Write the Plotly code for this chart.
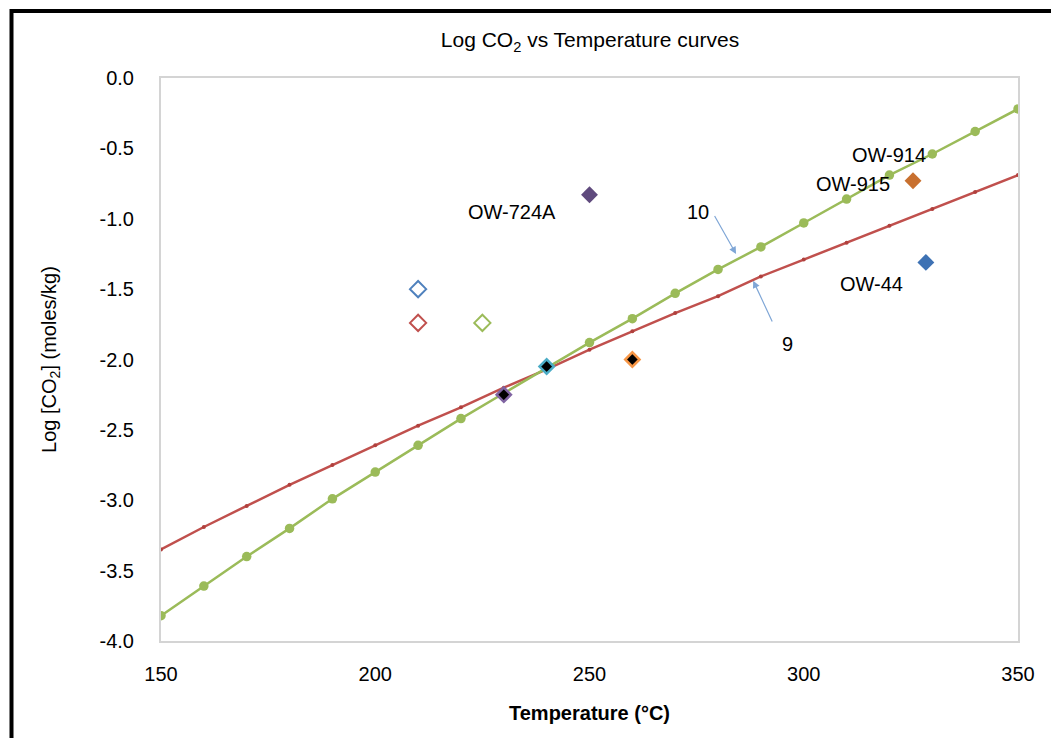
import plotly.graph_objects as go

# ---- data ----
temps = [150, 160, 170, 180, 190, 200, 210, 220, 230, 240, 250,
         260, 270, 280, 290, 300, 310, 320, 330, 340, 350]
curve_10 = [-3.82, -3.61, -3.40, -3.20, -2.99, -2.80, -2.61, -2.42, -2.24, -2.06, -1.88,
            -1.71, -1.53, -1.36, -1.20, -1.03, -0.86, -0.69, -0.54, -0.38, -0.22]
curve_9 = [-3.35, -3.19, -3.04, -2.89, -2.75, -2.61, -2.47, -2.34, -2.20, -2.07, -1.93,
           -1.80, -1.67, -1.55, -1.41, -1.29, -1.17, -1.05, -0.93, -0.81, -0.69]

open_x = [210, 210, 225]
open_y = [-1.50, -1.74, -1.74]
open_colors = ["#4F81BD", "#C0504D", "#9BBB59"]

dark_x = [230, 240, 260]
dark_y = [-2.25, -2.05, -2.00]
dark_edge = ["#8064A2", "#4BACC6", "#F79646"]

well_names = ["OW-724A", "OW-914", "OW-44"]
well_x = [250, 325.5, 328.5]
well_y = [-0.83, -0.73, -1.31]
well_colors = ["#5F4A7D", "#C8702F", "#3E72B4"]

label_text = ["OW-724A", "OW-914", "OW-915", "OW-44", "10", "9"]
label_x = [232.0, 319.9, 311.5, 315.7, 275.3, 296.3]
label_y = [-0.95, -0.55, -0.75, -1.46, -0.95, -1.89]

arrow_tail_x = [279.0, 292.8]
arrow_tail_y = [-0.97, -1.74]
arrow_head_x = [284.2, 288.2]
arrow_head_y = [-1.25, -1.44]

y_ticks = [0.0, -0.5, -1.0, -1.5, -2.0, -2.5, -3.0, -3.5, -4.0]
y_tick_text = ["0.0", "-0.5", "-1.0", "-1.5", "-2.0", "-2.5", "-3.0", "-3.5", "-4.0"]
x_ticks = [150, 200, 250, 300, 350]
x_tick_text = ["150", "200", "250", "300", "350"]

FONT = "Liberation Sans, Arial, sans-serif"

fig = go.Figure()

fig.add_trace(go.Scatter(x=temps, y=curve_9, mode="lines+markers",
                         line=dict(color="#C0504D", width=2.5),
                         marker=dict(symbol="circle", size=4, color="#B0403D"),
                         showlegend=False, name="9"))
fig.add_trace(go.Scatter(x=temps, y=curve_10, mode="lines+markers",
                         line=dict(color="#9BBB59", width=2.5),
                         marker=dict(symbol="circle", size=9.5, color="#9BBB59"),
                         showlegend=False, name="10"))

fig.add_trace(go.Scatter(x=open_x, y=open_y, mode="markers",
                         marker=dict(symbol="diamond-open", size=12.5,
                                     color=open_colors, line=dict(width=2, color=open_colors)),
                         showlegend=False))
fig.add_trace(go.Scatter(x=dark_x, y=dark_y, mode="markers",
                         marker=dict(symbol="diamond", size=11, color="black",
                                     line=dict(width=2.5, color=dark_edge)),
                         showlegend=False))
fig.add_trace(go.Scatter(x=well_x, y=well_y, mode="markers",
                         marker=dict(symbol="diamond", size=13, color=well_colors,
                                     line=dict(width=0)),
                         showlegend=False, text=well_names))

annotations = []
for t, x, y in zip(label_text, label_x, label_y):
    annotations.append(dict(x=x, y=y, xref="x", yref="y", text=t, showarrow=False,
                            font=dict(family=FONT, size=20, color="black"),
                            xanchor="center", yanchor="middle"))
for tx, ty, hx, hy in zip(arrow_tail_x, arrow_tail_y, arrow_head_x, arrow_head_y):
    annotations.append(dict(x=hx, y=hy, ax=tx, ay=ty, xref="x", yref="y",
                            axref="x", ayref="y", text="", showarrow=True,
                            arrowhead=2, arrowsize=1.2, arrowwidth=1.2,
                            arrowcolor="#7FA6D6"))

# outer black frame (extends past right/bottom edges like the source image)
fig.add_shape(type="rect", xref="paper", yref="paper",
              x0=(11.5 - 161) / 857, x1=(1070 - 161) / 857,
              y0=(641 - 760) / 563, y1=(641 - 11) / 563,
              line=dict(color="black", width=4), fillcolor="rgba(0,0,0,0)", layer="above")

fig.update_layout(
    width=1051, height=738,
    margin=dict(l=161, r=33, t=78, b=97),
    paper_bgcolor="white", plot_bgcolor="white",
    font=dict(family=FONT, size=20, color="black"),
    title=dict(text="Log CO<sub>2</sub> vs Temperature curves", x=590 / 1051, xanchor="center",
               y=1 - 40 / 738, yanchor="middle", font=dict(family=FONT, size=21, color="black")),
    annotations=annotations,
    xaxis=dict(range=[150, 350], tickvals=x_ticks, ticktext=x_tick_text,
               showgrid=False, zeroline=False, showline=True, mirror=True,
               linecolor="#D4D4D4", linewidth=2, ticks="", ticklabelstandoff=14,
               tickfont=dict(family=FONT, size=20),
               title=dict(text="<b>Temperature (°C)</b>", standoff=22,
                          font=dict(family=FONT, size=20))),
    yaxis=dict(range=[-4, 0], tickvals=y_ticks, ticktext=y_tick_text,
               showgrid=False, zeroline=False, showline=True, mirror=True,
               linecolor="#D4D4D4", linewidth=2, ticks="", ticklabelstandoff=21,
               tickfont=dict(family=FONT, size=20),
               title=dict(text="Log [CO<sub>2</sub>] (moles/kg)", standoff=38,
                          font=dict(family=FONT, size=20))),
)

fig.write_html("out.html")
